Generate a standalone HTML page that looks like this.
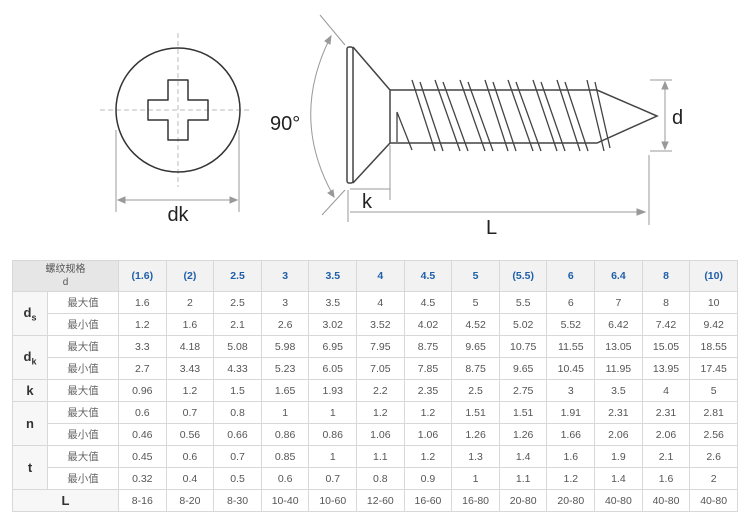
<!DOCTYPE html>
<html><head><meta charset="utf-8"><style>
body{margin:0;background:#fff;width:750px;height:516px;overflow:hidden;position:relative;font-family:"Liberation Sans","Noto Sans CJK SC",sans-serif}
svg{position:absolute;left:0;top:0}
table{position:absolute;left:12px;top:260px;border-collapse:collapse;table-layout:fixed;width:726px}
td{border:1px solid #d8d8d8;height:21px;padding:0;text-align:center;font-size:10.5px;color:#555}
tr.h td{height:30px;background:#f2f2f2;color:#1f5fa8;font-weight:bold;font-size:10.5px}
tr.h td.f{background:#e6e6e6;color:#555;font-weight:normal;line-height:13px;font-size:10px}
td.g{background:#f7f7f7;font-weight:bold;color:#333;font-size:13px}
td.s{color:#666}
sub{font-size:9px}
</style></head><body>
<svg width="750" height="250" viewBox="0 0 750 250" fill="none" stroke="#444" stroke-width="1.5">
<g stroke="#bbb" stroke-width="1" stroke-dasharray="5,3"><line x1="178" y1="33" x2="178" y2="187"/><line x1="100" y1="110" x2="252" y2="110"/></g>
<circle cx="178" cy="110" r="62" stroke="#333"/>
<path d="M168 80h20v20h20v20h-20v20h-20v-20h-20v-20h20z" stroke-linejoin="round" stroke="#333"/>
<g stroke="#999" stroke-width="1"><line x1="116" y1="130" x2="116" y2="212"/><line x1="239" y1="130" x2="239" y2="212"/><line x1="118" y1="200" x2="237" y2="200"/>
<path d="M118 200l7-3v6z M237 200l-7-3v6z" fill="#999"/>
<line x1="320" y1="15" x2="345" y2="45"/><line x1="322" y1="215" x2="345" y2="190"/>
<path d="M330 38 Q290 118 333 195"/>
<path d="M331 36l-6 5 5 3z M334 197l-6-4 5-3z" fill="#999"/>
<line x1="390" y1="145" x2="390" y2="200"/><line x1="348" y1="190" x2="348" y2="222"/><line x1="350" y1="189" x2="390" y2="189"/>
<line x1="350" y1="212" x2="645" y2="212"/><path d="M645 212l-8-3v6z" fill="#999"/>
<line x1="649" y1="155" x2="649" y2="225"/><line x1="650" y1="80" x2="672" y2="80"/><line x1="650" y1="151" x2="672" y2="151"/><line x1="665" y1="83" x2="665" y2="148"/>
<path d="M665 82l-3 7h6z M665 149l-3-7h6z" fill="#999"/></g>
<rect x="347" y="47" width="6" height="136" rx="2"/>
<path d="M353 47L390 90V143L353 183"/>
<path d="M390 90H597L657 116L597 143H390"/>
<g stroke-width="1.3">
<path d="M412 80l23 71M420 82l23 69M435 80l25 71M443 82l25 69M460 80l25 71M468 82l25 69M485 80l23 71M493 82l23 69M508 80l25 71M516 82l25 69M533 80l24 71M541 82l24 69M557 80l23 71M565 82l23 69M587 80l17 71M595 82l15 66"/>
<path d="M397 112l15 38M397 112v30"/>
</g>
<g fill="#222" stroke="none" font-family="Liberation Sans,sans-serif" font-size="20">
<text x="178" y="221" text-anchor="middle">dk</text>
<text x="270" y="130">90°</text>
<text x="362" y="208">k</text>
<text x="486" y="234">L</text>
<text x="672" y="124">d</text></g>
</svg>
<table>
<colgroup><col style="width:35px"><col style="width:71px"><col span="13"></colgroup>
<tr class="h"><td class="f" colspan="2">螺纹规格<br>d</td><td>(1.6)</td><td>(2)</td><td>2.5</td><td>3</td><td>3.5</td><td>4</td><td>4.5</td><td>5</td><td>(5.5)</td><td>6</td><td>6.4</td><td>8</td><td>(10)</td></tr>
<tr><td class="g" rowspan="2">d<sub>s</sub></td><td class="s">最大值</td><td>1.6</td><td>2</td><td>2.5</td><td>3</td><td>3.5</td><td>4</td><td>4.5</td><td>5</td><td>5.5</td><td>6</td><td>7</td><td>8</td><td>10</td></tr>
<tr><td class="s">最小值</td><td>1.2</td><td>1.6</td><td>2.1</td><td>2.6</td><td>3.02</td><td>3.52</td><td>4.02</td><td>4.52</td><td>5.02</td><td>5.52</td><td>6.42</td><td>7.42</td><td>9.42</td></tr>
<tr><td class="g" rowspan="2">d<sub>k</sub></td><td class="s">最大值</td><td>3.3</td><td>4.18</td><td>5.08</td><td>5.98</td><td>6.95</td><td>7.95</td><td>8.75</td><td>9.65</td><td>10.75</td><td>11.55</td><td>13.05</td><td>15.05</td><td>18.55</td></tr>
<tr><td class="s">最小值</td><td>2.7</td><td>3.43</td><td>4.33</td><td>5.23</td><td>6.05</td><td>7.05</td><td>7.85</td><td>8.75</td><td>9.65</td><td>10.45</td><td>11.95</td><td>13.95</td><td>17.45</td></tr>
<tr><td class="g">k</td><td class="s">最大值</td><td>0.96</td><td>1.2</td><td>1.5</td><td>1.65</td><td>1.93</td><td>2.2</td><td>2.35</td><td>2.5</td><td>2.75</td><td>3</td><td>3.5</td><td>4</td><td>5</td></tr>
<tr><td class="g" rowspan="2">n</td><td class="s">最大值</td><td>0.6</td><td>0.7</td><td>0.8</td><td>1</td><td>1</td><td>1.2</td><td>1.2</td><td>1.51</td><td>1.51</td><td>1.91</td><td>2.31</td><td>2.31</td><td>2.81</td></tr>
<tr><td class="s">最小值</td><td>0.46</td><td>0.56</td><td>0.66</td><td>0.86</td><td>0.86</td><td>1.06</td><td>1.06</td><td>1.26</td><td>1.26</td><td>1.66</td><td>2.06</td><td>2.06</td><td>2.56</td></tr>
<tr><td class="g" rowspan="2">t</td><td class="s">最大值</td><td>0.45</td><td>0.6</td><td>0.7</td><td>0.85</td><td>1</td><td>1.1</td><td>1.2</td><td>1.3</td><td>1.4</td><td>1.6</td><td>1.9</td><td>2.1</td><td>2.6</td></tr>
<tr><td class="s">最小值</td><td>0.32</td><td>0.4</td><td>0.5</td><td>0.6</td><td>0.7</td><td>0.8</td><td>0.9</td><td>1</td><td>1.1</td><td>1.2</td><td>1.4</td><td>1.6</td><td>2</td></tr>
<tr><td class="g" colspan="2">L</td><td>8-16</td><td>8-20</td><td>8-30</td><td>10-40</td><td>10-60</td><td>12-60</td><td>16-60</td><td>16-80</td><td>20-80</td><td>20-80</td><td>40-80</td><td>40-80</td><td>40-80</td></tr>
</table>
</body></html>
